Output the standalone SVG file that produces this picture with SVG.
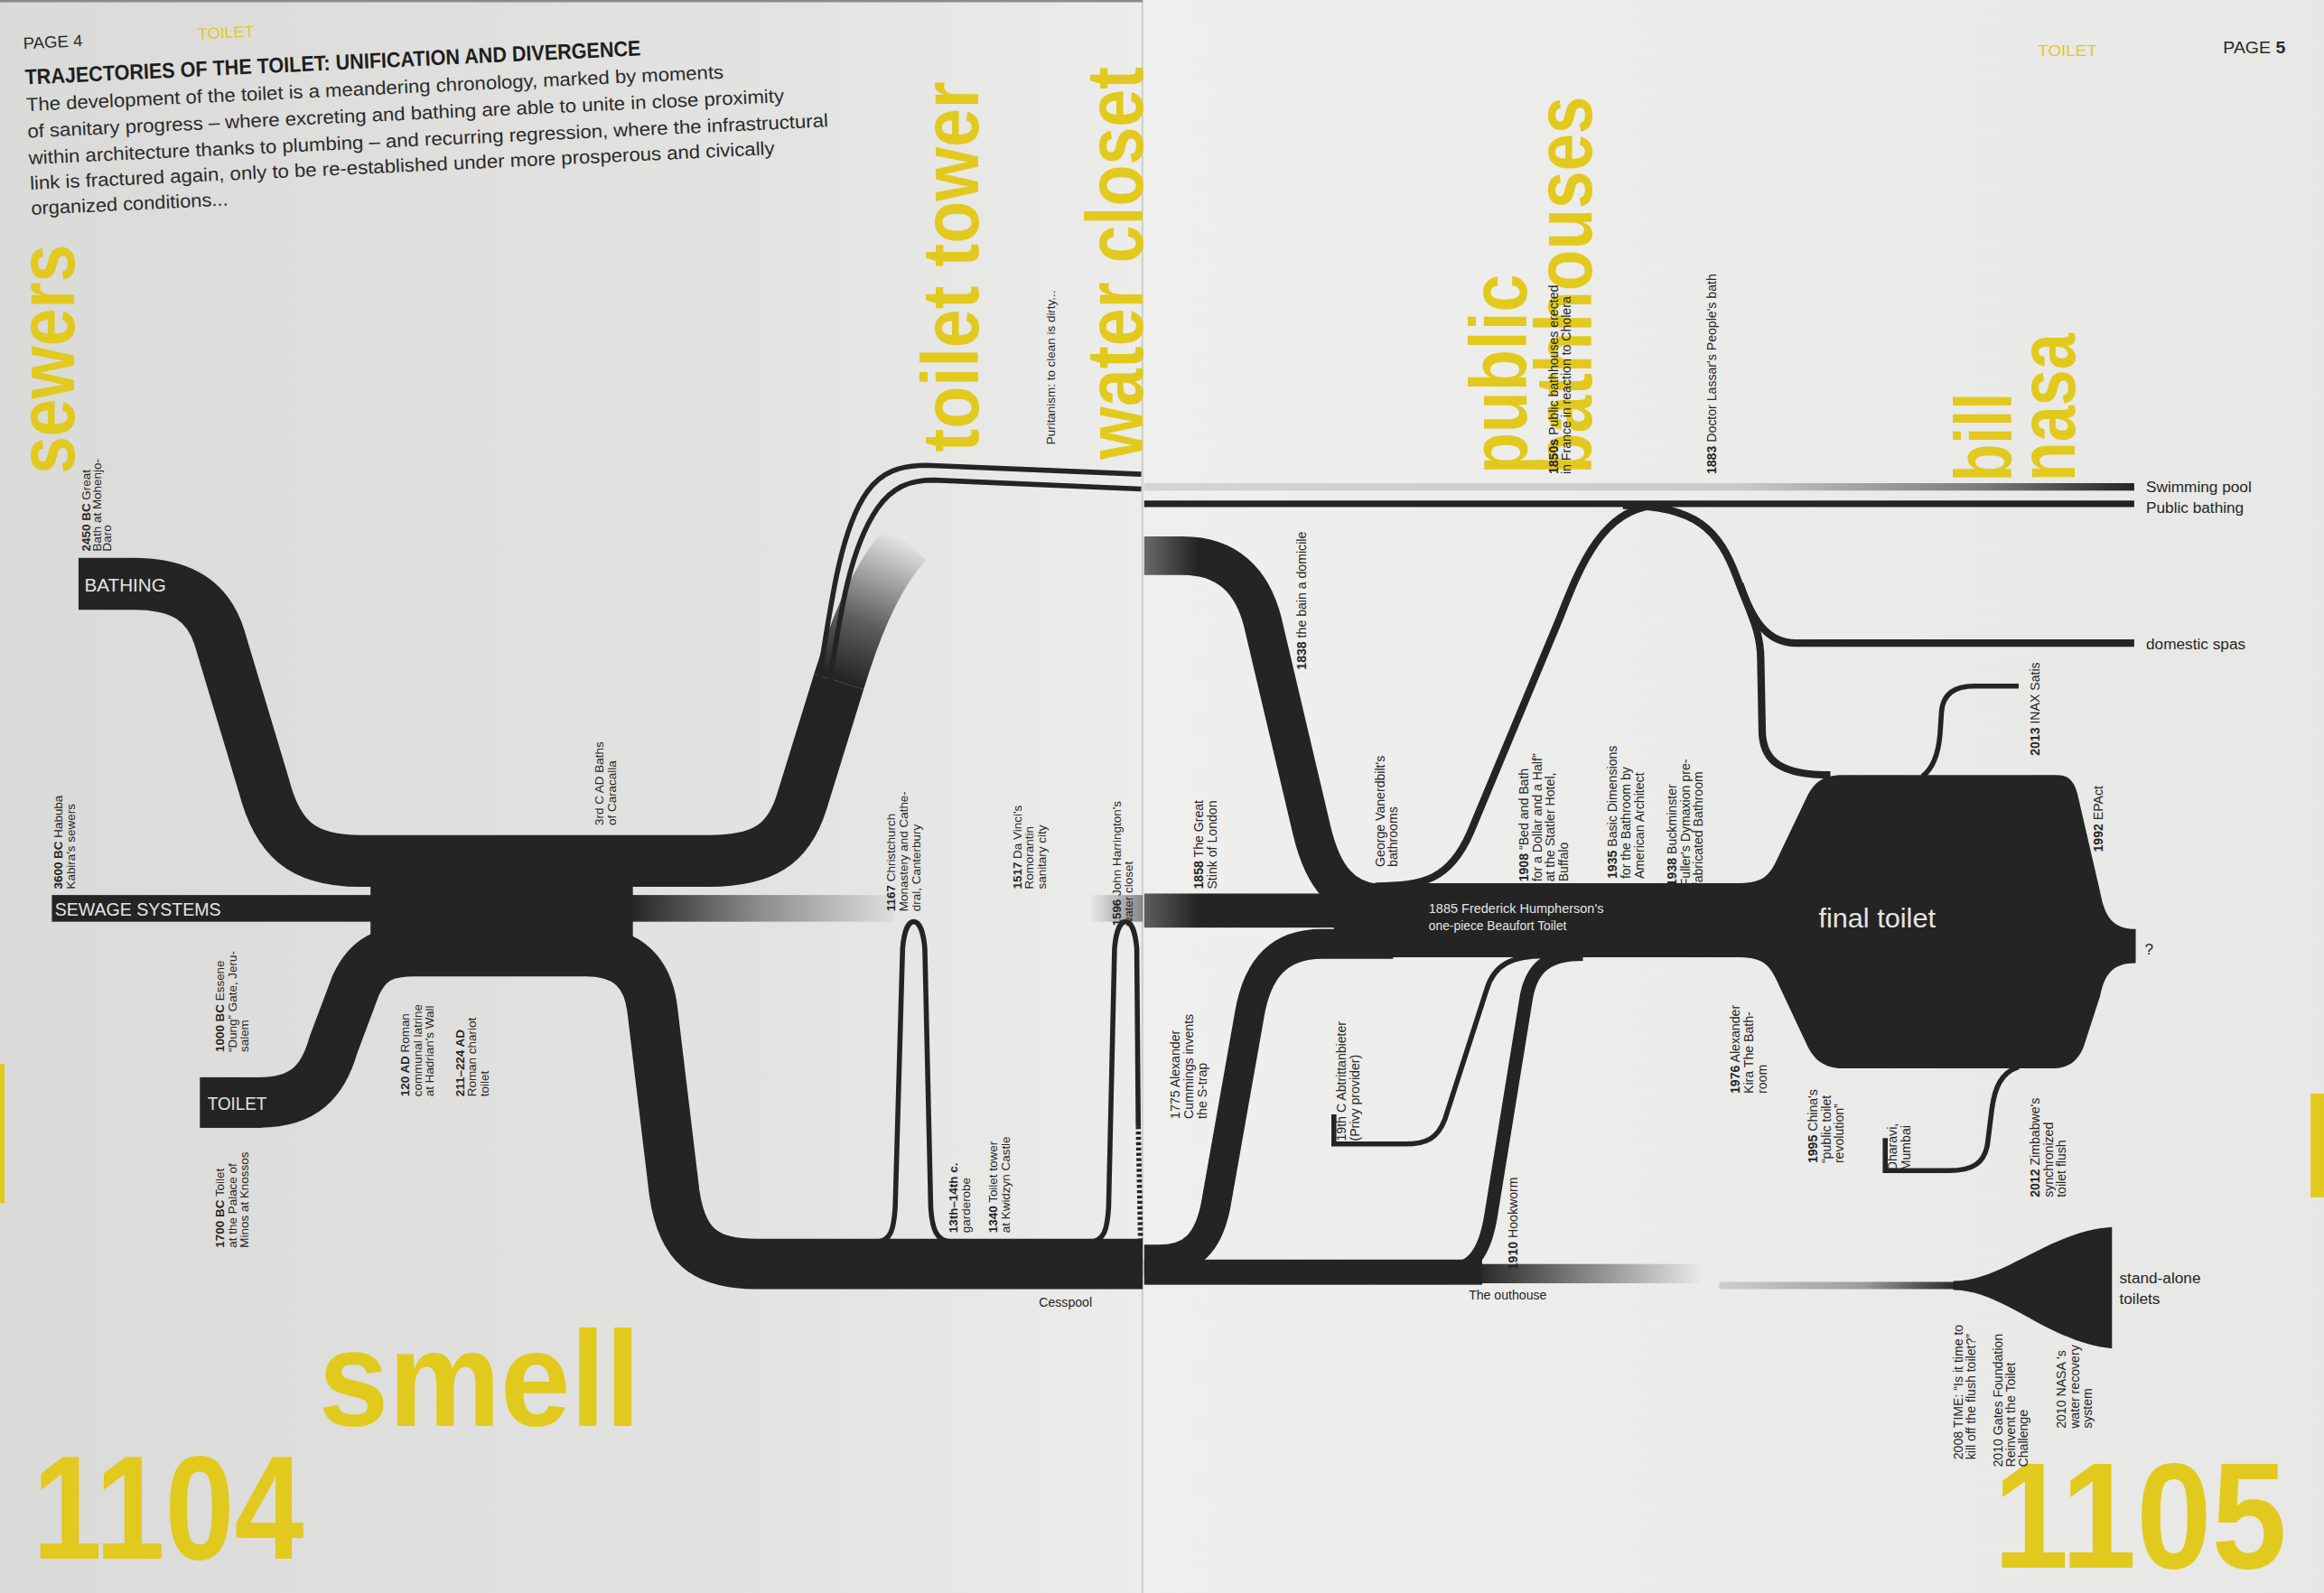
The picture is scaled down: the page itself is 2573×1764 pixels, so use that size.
<svg xmlns="http://www.w3.org/2000/svg" width="2573" height="1764" viewBox="0 0 2573 1764">
<defs>
<style>
text{font-family:"Liberation Sans",Arial,sans-serif}
.l{font-size:8.2px;fill:#262626}
.r{font-size:8.6px;fill:#262626}
.b{font-weight:bold}
.y{font-weight:bold;fill:#e2c91d}
.band{fill:none;stroke:#242424;stroke-linecap:butt;stroke-linejoin:round}
.thin{fill:none;stroke:#242424;stroke-width:3.4;stroke-linecap:butt}
.ink{fill:#242424}
.w{fill:#e4e4e2}
.h{font-size:10.5px;fill:#262626}
</style>
<linearGradient id="pgL" gradientUnits="userSpaceOnUse" x1="0" y1="0" x2="771" y2="0">
<stop offset="0" stop-color="#dadad8"/><stop offset="0.7" stop-color="#e3e3e1"/><stop offset="1" stop-color="#ececea"/>
</linearGradient>
<linearGradient id="pgR" gradientUnits="userSpaceOnUse" x1="771" y1="0" x2="1568" y2="0">
<stop offset="0" stop-color="#efefed"/><stop offset="1" stop-color="#e7e7e5"/>
</linearGradient>
<linearGradient id="gBath" gradientUnits="userSpaceOnUse" x1="566" y1="458" x2="606" y2="362">
<stop offset="0" stop-color="#242424" stop-opacity="1"/><stop offset="0.4" stop-color="#242424" stop-opacity="0.7"/><stop offset="1" stop-color="#242424" stop-opacity="0"/>
</linearGradient>
<linearGradient id="gSew" gradientUnits="userSpaceOnUse" x1="425" y1="0" x2="600" y2="0">
<stop offset="0" stop-color="#242424" stop-opacity="1"/><stop offset="0.5" stop-color="#242424" stop-opacity="0.45"/><stop offset="1" stop-color="#242424" stop-opacity="0.05"/>
</linearGradient>
<linearGradient id="gSew2" gradientUnits="userSpaceOnUse" x1="735" y1="0" x2="771" y2="0">
<stop offset="0" stop-color="#242424" stop-opacity="0"/><stop offset="1" stop-color="#242424" stop-opacity="0.5"/>
</linearGradient>
<linearGradient id="gSewR" gradientUnits="userSpaceOnUse" x1="772" y1="0" x2="808" y2="0">
<stop offset="0" stop-color="#5e5e5e"/><stop offset="1" stop-color="#242424"/>
</linearGradient>
<linearGradient id="gBain" gradientUnits="userSpaceOnUse" x1="772" y1="0" x2="808" y2="0">
<stop offset="0" stop-color="#6a6a6a"/><stop offset="1" stop-color="#242424"/>
</linearGradient>
<linearGradient id="gSwim" gradientUnits="userSpaceOnUse" x1="772" y1="0" x2="1440" y2="0">
<stop offset="0" stop-color="#d4d4d2"/><stop offset="0.6" stop-color="#cacac8"/><stop offset="0.85" stop-color="#7a7a78"/><stop offset="1" stop-color="#242424"/>
</linearGradient>
<linearGradient id="gOut" gradientUnits="userSpaceOnUse" x1="995" y1="0" x2="1150" y2="0">
<stop offset="0" stop-color="#242424" stop-opacity="1"/><stop offset="1" stop-color="#242424" stop-opacity="0"/>
</linearGradient>
<linearGradient id="gStem" gradientUnits="userSpaceOnUse" x1="1160" y1="0" x2="1322" y2="0">
<stop offset="0" stop-color="#cfcfcd"/><stop offset="0.6" stop-color="#9c9c9a"/><stop offset="1" stop-color="#242424"/>
</linearGradient>
</defs>
<rect width="2573" height="1764" fill="#e4e4e2"/>
<g transform="scale(1.6409)">
<g id="pages">
<rect x="0" y="0" width="771" height="1075" fill="url(#pgL)"/>
<rect x="771" y="0" width="797" height="1075" fill="url(#pgR)"/>
<line x1="770.8" y1="0" x2="770.8" y2="1075" stroke="#cdcdcb" stroke-width="1.2"/>
<rect x="0" y="0" width="771" height="1.5" fill="#8a8a88"/>
<rect x="0" y="718" width="3" height="94" fill="#e2c91d"/>
<rect x="1559" y="738" width="9" height="70" fill="#e2c91d"/>
</g>

<g id="header-left" transform="rotate(-2.7 17 57)">
<text x="17" y="33" font-size="11" fill="#2a2a2a" textLength="40" lengthAdjust="spacingAndGlyphs">PAGE 4</text>
<text x="135" y="32" font-size="10.5" fill="#e2c91d" textLength="38" lengthAdjust="spacingAndGlyphs">TOILET</text>
<text x="17" y="57" font-size="14.5" font-weight="bold" fill="#1e1e1e" textLength="416" lengthAdjust="spacingAndGlyphs">TRAJECTORIES OF THE TOILET: UNIFICATION AND DIVERGENCE</text>
<text font-size="12.6" fill="#2a2a2a">
<tspan x="17" y="75" textLength="471" lengthAdjust="spacingAndGlyphs">The development of the toilet is a meandering chronology, marked by moments</tspan>
<tspan x="17" y="93" textLength="511" lengthAdjust="spacingAndGlyphs">of sanitary progress – where excreting and bathing are able to unite in close proximity</tspan>
<tspan x="17" y="111" textLength="540" lengthAdjust="spacingAndGlyphs">within architecture thanks to plumbing – and recurring regression, where the infrastructural</tspan>
<tspan x="17" y="128" textLength="503" lengthAdjust="spacingAndGlyphs">link is fractured again, only to be re-established under more prosperous and civically</tspan>
<tspan x="17" y="145" textLength="133" lengthAdjust="spacingAndGlyphs">organized conditions...</tspan>
</text>
</g>

<g id="header-right">
<text x="1375" y="38" font-size="10.5" fill="#e2c91d" textLength="40" lengthAdjust="spacingAndGlyphs">TOILET</text>
<text x="1500" y="36" font-size="11.5" fill="#2a2a2a" textLength="42" lengthAdjust="spacingAndGlyphs">PAGE <tspan font-weight="bold">5</tspan></text>
</g>

<g id="keywords">
<text class="y" font-size="54" transform="translate(50,320) rotate(-90)" textLength="155" lengthAdjust="spacingAndGlyphs">sewers</text>
<text class="y" font-size="54" transform="translate(660,305) rotate(-90)" textLength="250" lengthAdjust="spacingAndGlyphs">toilet tower</text>
<text class="y" font-size="54" transform="translate(771,310) rotate(-90)" textLength="265" lengthAdjust="spacingAndGlyphs">water closet</text>
<text class="y" font-size="54" transform="translate(1030,320) rotate(-90)" textLength="135" lengthAdjust="spacingAndGlyphs">public</text>
<text class="y" font-size="54" transform="translate(1074,320) rotate(-90)" textLength="255" lengthAdjust="spacingAndGlyphs">bathhouses</text>
<text class="y" font-size="54" transform="translate(1357,325) rotate(-90)" textLength="60" lengthAdjust="spacingAndGlyphs">bill</text>
<text class="y" font-size="54" transform="translate(1400,325) rotate(-90)" textLength="100" lengthAdjust="spacingAndGlyphs">nasa</text>
<text class="y" font-size="92" x="215" y="962" textLength="217" lengthAdjust="spacingAndGlyphs">smell</text>
<text class="y" font-size="100" x="22" y="1052" textLength="183" lengthAdjust="spacingAndGlyphs">1104</text>
<text class="y" font-size="102" x="1345" y="1058" textLength="198" lengthAdjust="spacingAndGlyphs">1105</text>
</g>

<g id="connectors">
<!-- left page -->
<path class="band" stroke-width="35" d="M53,394 L90,394 C122,394 140,405 148,430 L178,530 C187,565 203,581 243,581 L478,581 C515,581 532,570 541,541 L566,460"/>
<path fill="none" stroke="url(#gBath)" stroke-width="35" d="M566,460 C574,434 588,392 612,366"/>
<path class="thin" d="M549,482 C559,420 565,360 585,332 C595,318 608,314 625,314 L770,320"/>
<path class="thin" d="M558,472 C566,420 572,372 592,343 C602,329 613,324 630,324 L770,330"/>
<rect x="35" y="604" width="392" height="18" class="ink"/>
<rect x="425" y="604" width="178" height="18" fill="url(#gSew)"/>
<rect x="735" y="604" width="36" height="18" fill="url(#gSew2)"/>
<rect x="250" y="575" width="177" height="72" class="ink"/>
<path class="band" stroke-width="34" d="M135,744 L175,744 C205,744 218,730 225,705 L240,665 C248,648 258,642 280,642 L395,642 C425,642 437,658 440,680 L455,805 C460,840 475,853 510,853 L771,853"/>
<path class="thin" d="M592,838 C601,837 603,830 604,815 L609,640 C610,628 613,622 616.5,622 C620,622 623,628 624,640 L628,815 C629,830 632,837 641,838"/>
<path class="thin" d="M736,838 C745,837 747,830 748,815 L752,640 C753,628 756,622 759.5,622 C763,622 766,628 767,640 L768,760"/>
<path class="thin" stroke-dasharray="2 1.6" d="M768,760 L769.5,836"/>
<!-- right page -->
<path fill="none" stroke="url(#gSwim)" stroke-width="5" d="M772,328.5 L1440,328.5"/>
<path class="band" stroke-width="4.5" d="M772,340 L1440,340"/>
<path fill="none" stroke="url(#gBain)" stroke-width="26" stroke-linejoin="round" d="M772,375 L798,375 C828,375 845,392 852,420 L885,560 C892,590 905,610 935,610"/>
<rect x="772" y="603" width="130" height="23" fill="url(#gSewR)"/>
<rect x="900" y="596" width="290" height="50" class="ink"/>
<path class="band" stroke-width="20" d="M772,850 L782,850 C805,850 815,838 820,815 L843,685 C848,655 862,637 892,637 L940,637"/>
<rect x="772" y="850" width="228" height="17" class="ink"/>
<rect x="998" y="853" width="152" height="13" fill="url(#gOut)"/>
<path class="band" stroke-width="5" d="M928,598 C960,598 978,594 992,562 L1052,418 C1066,382 1082,341 1120,341"/>
<path class="band" stroke-width="5" d="M1095,341 C1145,341 1160,358 1172,390 C1180,412 1188,425 1188,445 L1189,495 C1190,514 1202,523 1235,523"/>
<path class="band" stroke-width="5" d="M1174,394 C1182,418 1192,434 1212,434 L1440,434"/>
<path class="thin" d="M1297,524 C1305,518 1308,508 1309,495 L1310,480 C1311,469 1318,463 1332,463 L1362,463"/>
<path class="thin" d="M1362,720 C1350,724 1346,734 1344,748 L1341,772 C1339,785 1331,790 1315,790 L1272,790 M1272,791.7 L1272,768"/>
<path class="thin" d="M1042,645 C1020,645 1008,651 1003,668 L975,755 C970,768 963,772 948,772 L900,772 M900,773.7 L900,752"/>
<path class="band" stroke-width="9" d="M1068,644 C1045,644 1034,652 1030,672 L1006,820 C1002,845 994,858 972,858 L900,858"/>
<path fill="none" stroke="url(#gStem)" stroke-width="5" d="M1160,867.5 L1322,867.5"/>
</g>

<g id="node-bathing">
<rect x="53" y="377" width="40" height="34" class="ink"/>
<text x="57" y="399" font-size="12" class="w" textLength="55" lengthAdjust="spacingAndGlyphs">BATHING</text>
</g>
<g id="node-sewage">
<text x="37" y="618" font-size="12" class="w" textLength="112" lengthAdjust="spacingAndGlyphs">SEWAGE SYSTEMS</text>
</g>
<g id="node-toilet">
<rect x="135" y="727" width="42" height="34" class="ink"/>
<text x="140" y="749" font-size="12" class="w" textLength="40" lengthAdjust="spacingAndGlyphs">TOILET</text>
</g>
<g id="node-trunk-label">
<text x="964" y="616" font-size="8.5" class="w" textLength="118" lengthAdjust="spacingAndGlyphs">1885 Frederick Humpherson's</text>
<text x="964" y="628" font-size="8.5" class="w" textLength="93" lengthAdjust="spacingAndGlyphs">one-piece Beaufort Toilet</text>
</g>
<g id="node-final-toilet">
<path class="ink" d="M1172,596 C1188,596 1193,592 1198,582 L1220,536 C1225,527 1231,523 1244,523 L1388,523 C1396,523 1400,528 1402,537 L1417,602 C1420,618 1425,627 1441,627 L1441,650 C1425,650 1420,658 1417,672 L1406,706 C1402,716 1396,721 1384,721 L1244,721 C1231,721 1225,716 1220,707 L1198,660 C1193,650 1188,646 1172,646 Z"/>
<text x="1227" y="626" font-size="18.5" class="w" textLength="79" lengthAdjust="spacingAndGlyphs">final toilet</text>
<text x="1447" y="644" class="h">?</text>
</g>
<g id="node-stand-alone">
<path class="ink" d="M1318,864.5 C1352,864.5 1382,831 1425,828 L1425,910 C1382,906 1352,870.5 1318,870.5 Z"/>
<text class="h"><tspan x="1430" y="866">stand-alone</tspan><tspan x="1430" y="880">toilets</tspan></text>
</g>
<g id="node-ends">
<text x="1448" y="332" class="h">Swimming pool</text>
<text x="1448" y="346" class="h">Public bathing</text>
<text x="1448" y="438" class="h">domestic spas</text>
<text x="701" y="882" class="r">Cesspool</text>
<text x="991" y="877" class="r">The outhouse</text>
</g>

<g id="labels-left">
<text class="l" font-size="6.2" transform="translate(61,372) rotate(-90)"><tspan class="b">2450 BC</tspan> Great<tspan x="0" dy="7">Bath at Mohenjo-</tspan><tspan x="0" dy="7">Daro</tspan></text>
<text class="l" transform="translate(42,600) rotate(-90)"><tspan class="b">3600 BC</tspan> Habuba<tspan x="0" dy="8.4">Kabira's sewers</tspan></text>
<text class="l" transform="translate(151,710) rotate(-90)"><tspan class="b">1000 BC</tspan> Essene<tspan x="0" dy="8.4">“Dung” Gate, Jeru-</tspan><tspan x="0" dy="8.4">salem</tspan></text>
<text class="l" transform="translate(151,842) rotate(-90)"><tspan class="b">1700 BC</tspan> Toilet<tspan x="0" dy="8.4">at the Palace of</tspan><tspan x="0" dy="8.4">Minos at Knossos</tspan></text>
<text class="l" transform="translate(276,740) rotate(-90)"><tspan class="b">120 AD</tspan> Roman<tspan x="0" dy="8.4">communal latrine</tspan><tspan x="0" dy="8.4">at Hadrian's Wall</tspan></text>
<text class="l" transform="translate(313,740) rotate(-90)"><tspan class="b">211–224 AD</tspan><tspan x="0" dy="8.4">Roman chariot</tspan><tspan x="0" dy="8.4">toilet</tspan></text>
<text class="l" transform="translate(407,557) rotate(-90)">3rd C AD Baths<tspan x="0" dy="8.4">of Caracalla</tspan></text>
<text class="l" transform="translate(604,615) rotate(-90)"><tspan class="b">1167</tspan> Christchurch<tspan x="0" dy="8.4">Monastery and Cathe-</tspan><tspan x="0" dy="8.4">dral, Canterbury</tspan></text>
<text class="l" transform="translate(646,832) rotate(-90)"><tspan class="b">13th–14th c.</tspan><tspan x="0" dy="8.4">garderobe</tspan></text>
<text class="l" transform="translate(673,832) rotate(-90)"><tspan class="b">1340</tspan> Toilet tower<tspan x="0" dy="8.4">at Kwidzyn Castle</tspan></text>
<text class="l" transform="translate(689,600) rotate(-90)"><tspan class="b">1517</tspan> Da Vinci's<tspan x="0" dy="8.4">Romorantin</tspan><tspan x="0" dy="8.4">sanitary city</tspan></text>
<text class="l" transform="translate(756,625) rotate(-90)"><tspan class="b">1596</tspan> John Harrington's<tspan x="0" dy="8.4">water closet</tspan></text>
<text class="l" font-size="7" transform="translate(712,300) rotate(-90)">Puritanism: to clean is dirty...</text>
</g>

<g id="labels-right">
<text class="r" transform="translate(881,452) rotate(-90)"><tspan class="b">1838</tspan> the bain a domicile</text>
<text class="r" transform="translate(812,600) rotate(-90)"><tspan class="b">1858</tspan> The Great<tspan x="0" dy="9">Stink of London</tspan></text>
<text class="r" transform="translate(796,755) rotate(-90)">1775 Alexander<tspan x="0" dy="9">Cummings invents</tspan><tspan x="0" dy="9">the S-trap</tspan></text>
<text class="r" transform="translate(934,585) rotate(-90)">George Vanerdbilt's<tspan x="0" dy="9">bathrooms</tspan></text>
<text class="r" transform="translate(908,770) rotate(-90)">19th C Abtrittanbieter<tspan x="0" dy="9">(Privy provider)</tspan></text>
<text class="r" transform="translate(1024,857) rotate(-90)"><tspan class="b">1910</tspan> Hookworm</text>
<text class="r" transform="translate(1031,595) rotate(-90)"><tspan class="b">1908</tspan> “Bed and Bath<tspan x="0" dy="9">for a Dollar and a Half”</tspan><tspan x="0" dy="9">at the Statler Hotel,</tspan><tspan x="0" dy="9">Buffalo</tspan></text>
<text class="r" transform="translate(1091,593) rotate(-90)"><tspan class="b">1935</tspan> Basic Dimensions<tspan x="0" dy="9">for the Bathroom by</tspan><tspan x="0" dy="9">American Architect</tspan></text>
<text class="r" transform="translate(1131,598) rotate(-90)"><tspan class="b">1938</tspan> Buckminster<tspan x="0" dy="9">Fuller's Dymaxion pre-</tspan><tspan x="0" dy="9">fabricated Bathroom</tspan></text>
<text class="r" transform="translate(1051,320) rotate(-90)"><tspan class="b">1850s</tspan> Public bathhouses erected<tspan x="0" dy="9">in France in reaction to Cholera</tspan></text>
<text class="r" transform="translate(1158,320) rotate(-90)"><tspan class="b">1883</tspan> Doctor Lassar's People's bath</text>
<text class="r" transform="translate(1376,510) rotate(-90)"><tspan class="b">2013</tspan> INAX Satis</text>
<text class="r" transform="translate(1419,575) rotate(-90)"><tspan class="b">1992</tspan> EPAct</text>
<text class="r" transform="translate(1174,738) rotate(-90)"><tspan class="b">1976</tspan> Alexander<tspan x="0" dy="9">Kira The Bath-</tspan><tspan x="0" dy="9">room</tspan></text>
<text class="r" transform="translate(1226,785) rotate(-90)"><tspan class="b">1995</tspan> China's<tspan x="0" dy="9">“public toilet</tspan><tspan x="0" dy="9">revolution”</tspan></text>
<text class="r" transform="translate(1280,790) rotate(-90)">Dharavi,<tspan x="0" dy="9">Mumbai</tspan></text>
<text class="r" transform="translate(1376,808) rotate(-90)"><tspan class="b">2012</tspan> Zimbabwe's<tspan x="0" dy="9">synchronized</tspan><tspan x="0" dy="9">toilet flush</tspan></text>
<text class="r" font-size="8" transform="translate(1324,985) rotate(-90)">2008 TIME: “Is it time to<tspan x="0" dy="8.6">kill off the flush toilet?”</tspan></text>
<text class="r" font-size="8" transform="translate(1351,990) rotate(-90)">2010 Gates Foundation<tspan x="0" dy="8.6">Reinvent the Toilet</tspan><tspan x="0" dy="8.6">Challenge</tspan></text>
<text class="r" font-size="8" transform="translate(1394,964) rotate(-90)">2010 NASA 's<tspan x="0" dy="8.6">water recovery</tspan><tspan x="0" dy="8.6">system</tspan></text>
</g>
</g>
</svg>
